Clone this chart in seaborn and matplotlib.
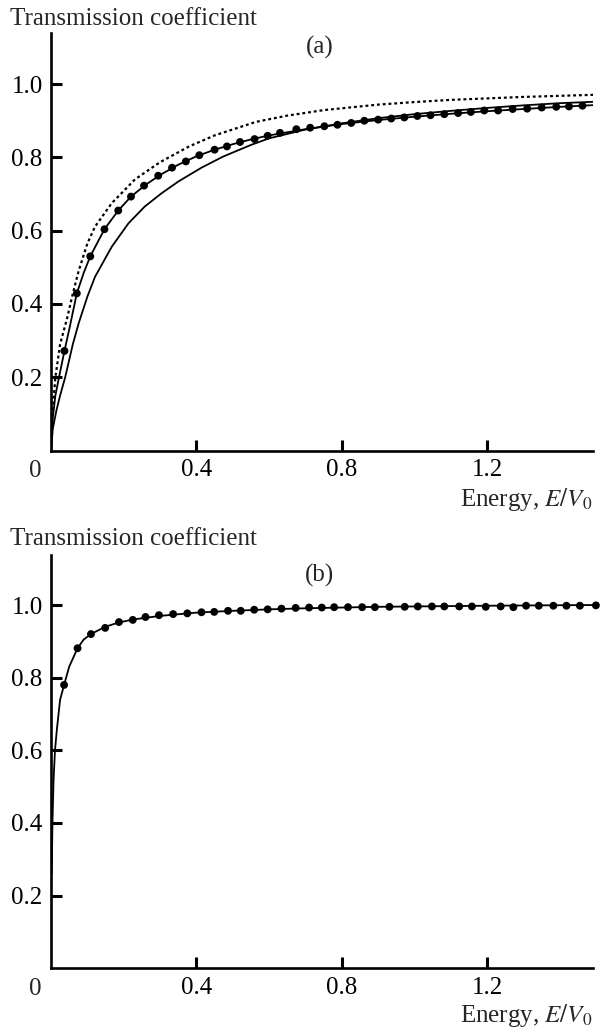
import matplotlib
matplotlib.use("Agg")
import matplotlib.pyplot as plt
import seaborn as sns

# ---- panel (a) ----
# curva punteada (superior)
a_punteada_x = [0.0, 0.004, 0.012, 0.025, 0.044, 0.058, 0.076, 0.1, 0.121, 0.167, 0.231,
                0.3, 0.38, 0.45, 0.564, 0.65, 0.75, 0.9, 1.0, 1.1, 1.2, 1.3, 1.4, 1.5]
a_punteada_y = [0.0, 0.1, 0.2, 0.29, 0.36, 0.42, 0.49, 0.565, 0.611, 0.675, 0.74,
                0.787, 0.83, 0.86, 0.897, 0.914, 0.929, 0.944, 0.951, 0.957, 0.961, 0.965, 0.968, 0.971]

# curva continua que pasa por los puntos
a_continua1_x = [0.0, 0.005, 0.012, 0.022, 0.037, 0.05, 0.071, 0.09, 0.108, 0.147, 0.185, 0.22,
                 0.26, 0.3, 0.35, 0.4, 0.45, 0.5, 0.55, 0.6, 0.7, 0.8, 0.9, 1.0, 1.1, 1.2, 1.3, 1.4, 1.5]
a_continua1_y = [0.0, 0.09, 0.15, 0.2, 0.272, 0.33, 0.429, 0.485, 0.53, 0.604, 0.655, 0.693,
                 0.725, 0.752, 0.78, 0.803, 0.821, 0.836, 0.849, 0.86, 0.877, 0.891, 0.902, 0.911,
                 0.919, 0.926, 0.932, 0.938, 0.943]

# curva continua inferior
a_continua2_x = [0.0, 0.005, 0.015, 0.025, 0.039, 0.06, 0.076, 0.1, 0.121, 0.167, 0.213, 0.258,
                 0.304, 0.35, 0.414, 0.473, 0.55, 0.6, 0.7, 0.8, 0.9, 1.0, 1.1, 1.2, 1.3, 1.4, 1.5]
a_continua2_y = [0.0, 0.06, 0.11, 0.15, 0.2, 0.29, 0.347, 0.42, 0.474, 0.556, 0.62, 0.666,
                 0.702, 0.734, 0.772, 0.802, 0.834, 0.852, 0.876, 0.893, 0.907, 0.918, 0.927,
                 0.935, 0.942, 0.948, 0.952]

a_puntos_x = [0.037, 0.071, 0.108, 0.147, 0.185, 0.22, 0.256, 0.295, 0.333, 0.371, 0.408, 0.45,
              0.484, 0.52, 0.56, 0.596, 0.63, 0.675, 0.713, 0.752, 0.788, 0.826, 0.862, 0.9,
              0.936, 0.972, 1.008, 1.044, 1.082, 1.12, 1.155, 1.192, 1.23, 1.27, 1.31, 1.35,
              1.39, 1.425, 1.462]
a_puntos_y = [0.272, 0.429, 0.53, 0.604, 0.655, 0.693, 0.723, 0.75, 0.772, 0.789, 0.806, 0.821,
              0.83, 0.842, 0.85, 0.859, 0.867, 0.877, 0.881, 0.885, 0.889, 0.894, 0.9, 0.903,
              0.906, 0.909, 0.913, 0.915, 0.918, 0.921, 0.924, 0.928, 0.928, 0.932, 0.933, 0.936,
              0.938, 0.939, 0.941]

# ---- panel (b) ----
b_continua_x = [0.002, 0.004, 0.007, 0.011, 0.016, 0.025, 0.036, 0.05, 0.073, 0.09, 0.11, 0.149,
                0.187, 0.225, 0.3, 0.4, 0.5, 0.6, 0.7, 0.8, 0.9, 1.0, 1.2, 1.5]
b_continua_y = [0.26, 0.4, 0.518, 0.6, 0.656, 0.739, 0.78, 0.83, 0.881, 0.905, 0.92, 0.94,
                0.952, 0.96, 0.97, 0.979, 0.984, 0.988, 0.991, 0.993, 0.995, 0.996, 0.998, 1.0]

b_puntos_x = [0.036, 0.073, 0.11, 0.149, 0.187, 0.225, 0.26, 0.297, 0.336, 0.375, 0.414, 0.449,
              0.487, 0.522, 0.559, 0.596, 0.634, 0.673, 0.71, 0.745, 0.779, 0.817, 0.856, 0.891,
              0.931, 0.973, 1.009, 1.048, 1.082, 1.123, 1.158, 1.196, 1.237, 1.272, 1.307, 1.342,
              1.382, 1.418, 1.455, 1.499]
b_puntos_y = [0.78, 0.881, 0.92, 0.937, 0.953, 0.959, 0.967, 0.972, 0.975, 0.977, 0.98, 0.981,
              0.984, 0.984, 0.987, 0.988, 0.99, 0.992, 0.993, 0.993, 0.994, 0.994, 0.994, 0.994,
              0.995, 0.995, 0.996, 0.996, 0.996, 0.996, 0.996, 0.995, 0.996, 0.994, 0.998, 0.998,
              0.998, 0.998, 0.998, 0.999]

x_ticks = [0.4, 0.8, 1.2]
y_ticks = [0.2, 0.4, 0.6, 0.8, 1.0]
etiqueta_y = "Transmission coefficient"
etiqueta_x = "Energy, $E/V_0$"

sns.set_style("ticks")
plt.rcParams["font.family"] = ["Liberation Serif", "DejaVu Serif"]
plt.rcParams["mathtext.fontset"] = "stix"

W, H = 610, 1034
fig = plt.figure(figsize=(W / 100, H / 100), dpi=100)

X0, XU = 51, 363.5          # px del origen y px por unidad en x
XMAX = (593.3 - X0) / XU


def crear_eje(y_cero, y_top, unidad):
    ax = fig.add_axes([X0 / W, (H - y_cero) / H, (593.3 - X0) / W, (y_cero - y_top) / H])
    ax.set_xlim(0, XMAX)
    ax.set_ylim(0, (y_cero - y_top) / unidad)
    return ax


def formato_eje(ax):
    sns.despine(ax=ax)
    for s in ["left", "bottom"]:
        ax.spines[s].set_linewidth(1.9)
        ax.spines[s].set_color("black")
    ax.set_xticks(x_ticks)
    ax.set_xticklabels([f"{v:.1f}" for v in x_ticks])
    ax.set_yticks(y_ticks)
    ax.set_yticklabels([f"{v:.1f}" for v in y_ticks])
    ax.tick_params(axis="both", which="major", direction="in", length=8, width=2.2,
                   labelsize=18, pad=6, color="black", labelcolor="black")
    for t in ax.xaxis.get_major_ticks() + ax.yaxis.get_major_ticks():
        t.tick1line.set_zorder(10)
    ax.set_axisbelow(False)
    ax.annotate("0", xy=(0, 0), xytext=(-11, -15), textcoords="offset points",
                ha="center", va="center", fontsize=18, annotation_clip=False)
    ax.set_xlabel("")
    ax.set_ylabel("")


def linea(ax, xs, ys, **kw):
    sns.lineplot(x=xs, y=ys, ax=ax, color="black", sort=False, estimator=None, **kw)


# panel (a)
ax_a = crear_eje(450.6, 33, 366.5)
linea(ax_a, a_punteada_x, a_punteada_y, lw=1.6, dashes=[(1.3, 1.3)], style=[0] * len(a_punteada_x), legend=False)
linea(ax_a, a_continua1_x, a_continua1_y, lw=1.3)
linea(ax_a, a_continua2_x, a_continua2_y, lw=1.3)
sns.scatterplot(x=a_puntos_x, y=a_puntos_y, ax=ax_a, color="black", s=32,
                edgecolor="none", zorder=5, clip_on=False)
formato_eje(ax_a)

# panel (b)
ax_b = crear_eje(968.3, 555, 363.3)
linea(ax_b, b_continua_x, b_continua_y, lw=1.3)
sns.scatterplot(x=b_puntos_x, y=b_puntos_y, ax=ax_b, color="black", s=32,
                edgecolor="none", zorder=5, clip_on=False)
formato_eje(ax_b)

# textos
fig.text(10 / W, 1 - 25 / H, etiqueta_y, fontsize=18, va="baseline", ha="left")
fig.text(10 / W, 1 - 545 / H, etiqueta_y, fontsize=18, va="baseline", ha="left")
fig.text(592 / W, 1 - 506 / H, etiqueta_x, fontsize=18, va="baseline", ha="right")
fig.text(592 / W, 1 - 1022 / H, etiqueta_x, fontsize=18, va="baseline", ha="right")
fig.text(320 / W, 1 - 47 / H, "(a)", fontsize=18, va="center", ha="center")
fig.text(320 / W, 1 - 575 / H, "(b)", fontsize=18, va="center", ha="center")

fig.savefig("out.png", dpi=100)
